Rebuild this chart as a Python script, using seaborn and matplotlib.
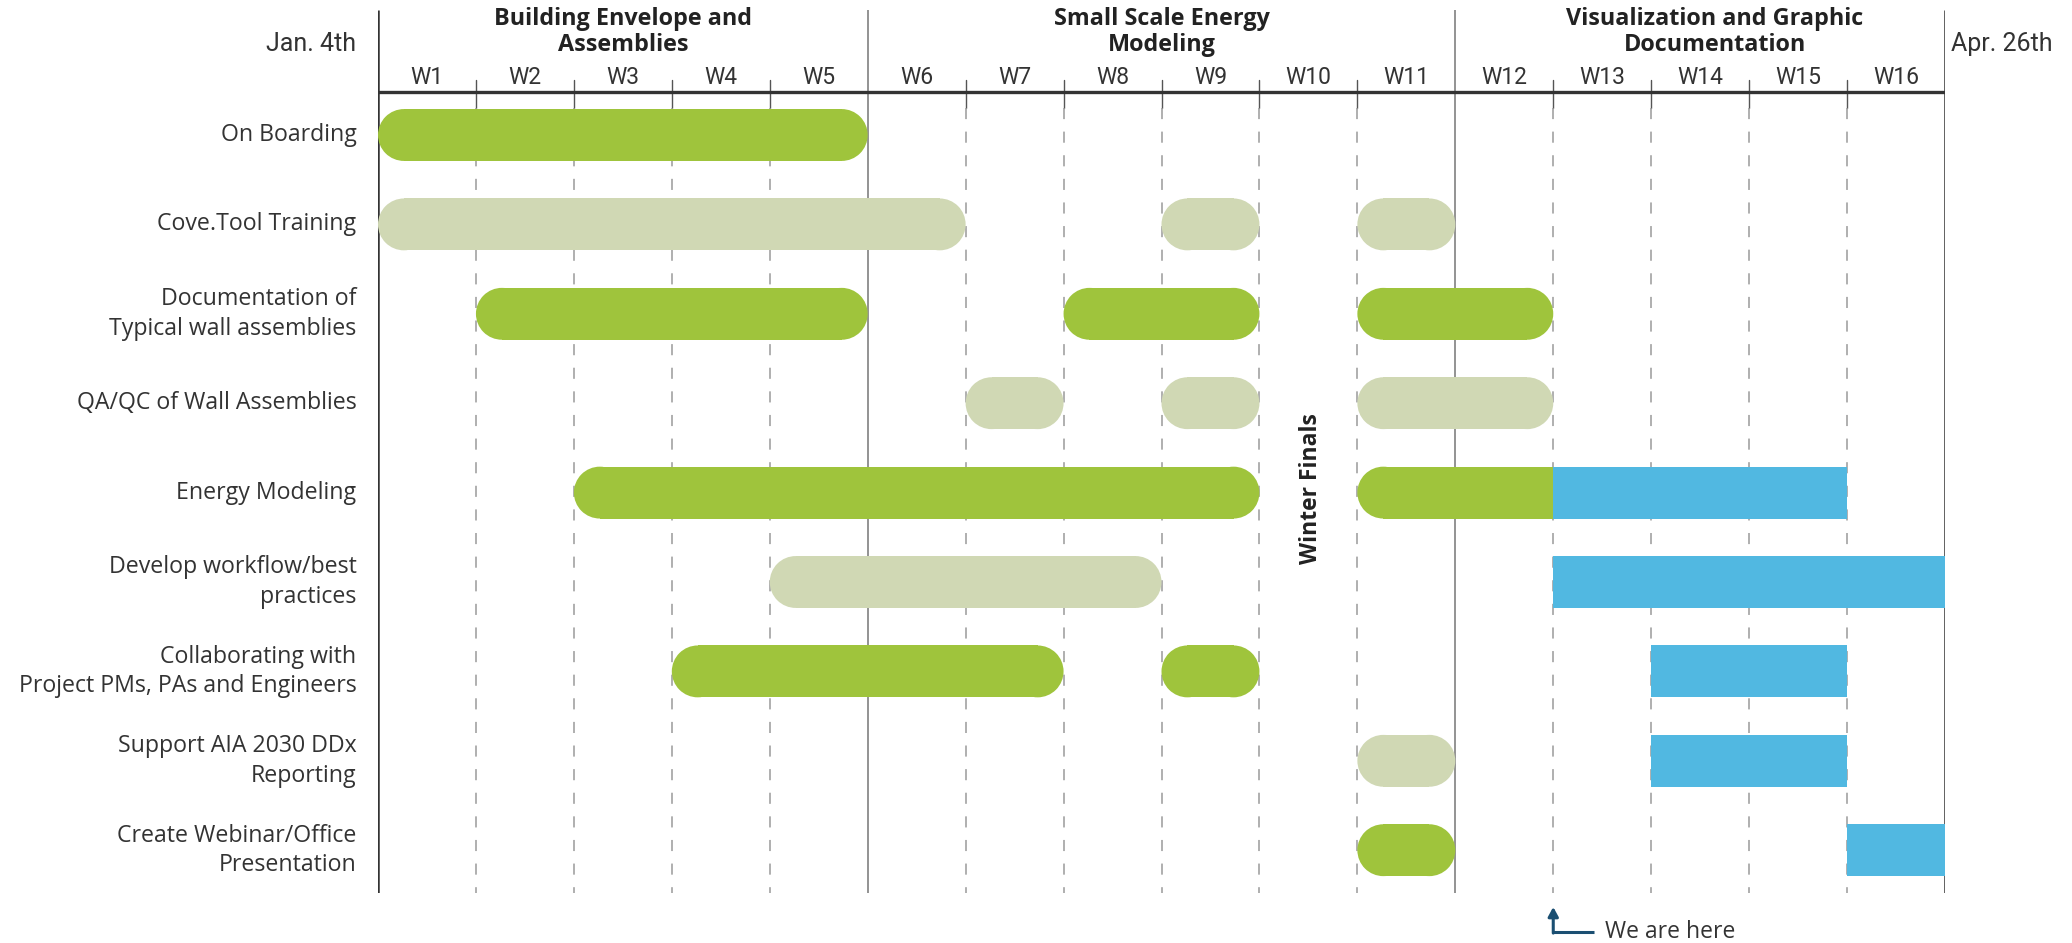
import matplotlib
matplotlib.use("Agg")
import matplotlib.pyplot as plt
from matplotlib.patches import Ellipse, Rectangle
import seaborn as sns
import pandas as pd

# ---------------- data ----------------
tasks = ["On Boarding", "Cove.Tool Training", "Documentation of\nTypical wall assemblies",
         "QA/QC of Wall Assemblies", "Energy Modeling", "Develop workflow/best\npractices",
         "Collaborating with\nProject PMs, PAs and Engineers", "Support AIA 2030 DDx\nReporting",
         "Create Webinar/Office\nPresentation"]
weeks = [f"W{i}" for i in range(1, 17)]
phases = ["Building Envelope and\nAssemblies", "Small Scale Energy\nModeling",
          "Visualization and Graphic\nDocumentation"]
phase_start = [0, 5, 11]
phase_end = [5, 11, 16]
start_label = "Jan. 4th"
end_label = "Apr. 26th"

seg_task = [0, 1, 1, 1, 2, 2, 2, 3, 3, 3, 4, 4, 4, 5, 5, 6, 6, 6, 7, 7, 8, 8]
seg_start = [0, 0, 8, 10, 1, 7, 10, 6, 8, 10, 2, 10, 12, 4, 12, 3, 8, 13, 10, 13, 10, 15]
seg_end = [5, 6, 9, 11, 5, 9, 12, 7, 9, 12, 9, 12, 15, 8, 16, 7, 9, 15, 11, 15, 11, 16]
seg_kind = ["done", "light", "light", "light", "done", "done", "done", "light", "light", "light",
            "done", "done", "future", "light", "future", "done", "done", "future", "light",
            "future", "done", "future"]
break_label = "Winter Finals"
break_week = 10
here_week = 12
here_label = "We are here"

df = pd.DataFrame({"task": seg_task, "start": seg_start, "end": seg_end, "kind": seg_kind})

colors = {"done": "#9fc43c", "light": "#d0d8b4", "future": "#51b8e1"}
txt = "#333333"

# ---------------- figure ----------------
sns.set_style("white")
plt.rcParams["font.family"] = ["Open Sans", "DejaVu Sans"]
plt.rcParams["lines.scale_dashes"] = False
cond = ["Roboto", "DejaVu Sans"]

W, H = 2072, 943
fig = plt.figure(figsize=(W / 100, H / 100), dpi=100)
ax = fig.add_axes([378 / W, 1 - 893 / H, (1945 - 378) / W, (893 - 10) / H])
row_top = (10 - 135) / 89.4
row_bot = (893 - 135) / 89.4
ax.set_xlim(0, 16)
ax.set_ylim(row_bot, row_top)
ax.axis("off")

def ypx(px):
    return (px - 135) / 89.4

y_thick = ypx(92)
y_wlab = ypx(77)
y_tick_top = ypx(80)
y_solid_end = ypx(108)

# vertical lines
for w in range(0, 17):
    if w in (0, 16):
        ax.plot([w, w], [row_top, row_bot], color="#333333", lw=1.8, zorder=3, solid_capstyle="butt")
    elif w in phase_start or w in phase_end:
        ax.plot([w, w], [row_top, row_bot], color="#8a8a8a", lw=1.3, zorder=1, solid_capstyle="butt")
    else:
        ax.plot([w, w], [y_tick_top, y_solid_end], color="#555555", lw=1.0, zorder=1)
        ax.plot([w, w], [y_solid_end, row_bot], color="#9a9a9a", lw=1.1,
                linestyle=(0, (8, 9)), zorder=1)

ax.plot([0, 16], [y_thick, y_thick], color="#333333", lw=2.4, zorder=3, solid_capstyle="butt")

# week labels
for i, wl in enumerate(weeks):
    ax.text(i + 0.5, y_wlab, wl, ha="center", va="center", fontsize=16.5,
            family=cond, color=txt)

# phase titles
for p, s, e in zip(phases, phase_start, phase_end):
    ax.text((s + e) / 2 + (0.15 if s == 11 else 0), ypx(32), p, ha="center", va="center",
            fontsize=16.8, fontweight="bold", color="#222222", linespacing=1.12)

ax.text(-0.22, ypx(44), start_label, ha="right", va="center", fontsize=18,
        family=cond, color=txt)
ax.text(16.06, ypx(44), end_label, ha="left", va="center", fontsize=18,
        family=cond, color=txt)

# task labels
for i, t in enumerate(tasks):
    ax.text(-0.22, i, t, ha="right", va="center", fontsize=16.7, color=txt, linespacing=1.3)

# bars (pill shaped)
fig.canvas.draw()
p0 = ax.transData.transform((0, 0))
p1 = ax.transData.transform((1, 1))
px_x = abs(p1[0] - p0[0])
px_y = abs(p1[1] - p0[1])
bh = 0.58
r_x = (bh / 2) * px_y / px_x

for _, row in df.iterrows():
    y = row.task
    c = colors[row.kind]
    x0, x1 = row.start, row.end
    if row.kind == "future":
        ax.add_patch(Rectangle((x0, y - bh / 2), x1 - x0, bh, fc=c, ec="none", zorder=4))
        continue
    joined = ((df.task == y) & (df.start == x1)).any()
    right = x1 if joined else x1 - r_x
    ax.add_patch(Rectangle((x0 + r_x, y - bh / 2), right - (x0 + r_x), bh,
                           fc=c, ec="none", zorder=4))
    ax.add_patch(Ellipse((x0 + r_x, y), 2 * r_x, bh, fc=c, ec="none", zorder=4))
    if not joined:
        ax.add_patch(Ellipse((x1 - r_x, y), 2 * r_x, bh, fc=c, ec="none", zorder=4))

# winter finals
ax.text(break_week - 0.47, ypx(489), break_label, rotation=90, ha="center", va="center",
        fontsize=16.5, fontweight="bold", color="#222222", zorder=5)

# we are here
arrow_c = "#1b4f72"
y_h = ypx(932)
ax.plot([here_week + 0.42, here_week], [y_h, y_h], color=arrow_c, lw=2.2, clip_on=False,
        solid_capstyle="butt")
ax.annotate("", xy=(here_week, ypx(907)), xytext=(here_week, y_h + 0.012),
            arrowprops=dict(arrowstyle="-|>,head_length=0.55,head_width=0.3", color=arrow_c,
                            lw=2.2, shrinkA=0, shrinkB=0), annotation_clip=False)
ax.text(here_week + 0.53, y_h, here_label, ha="left", va="center", fontsize=16.5, color=txt,
        clip_on=False)

fig.savefig("out.png", dpi=100, facecolor="white")
